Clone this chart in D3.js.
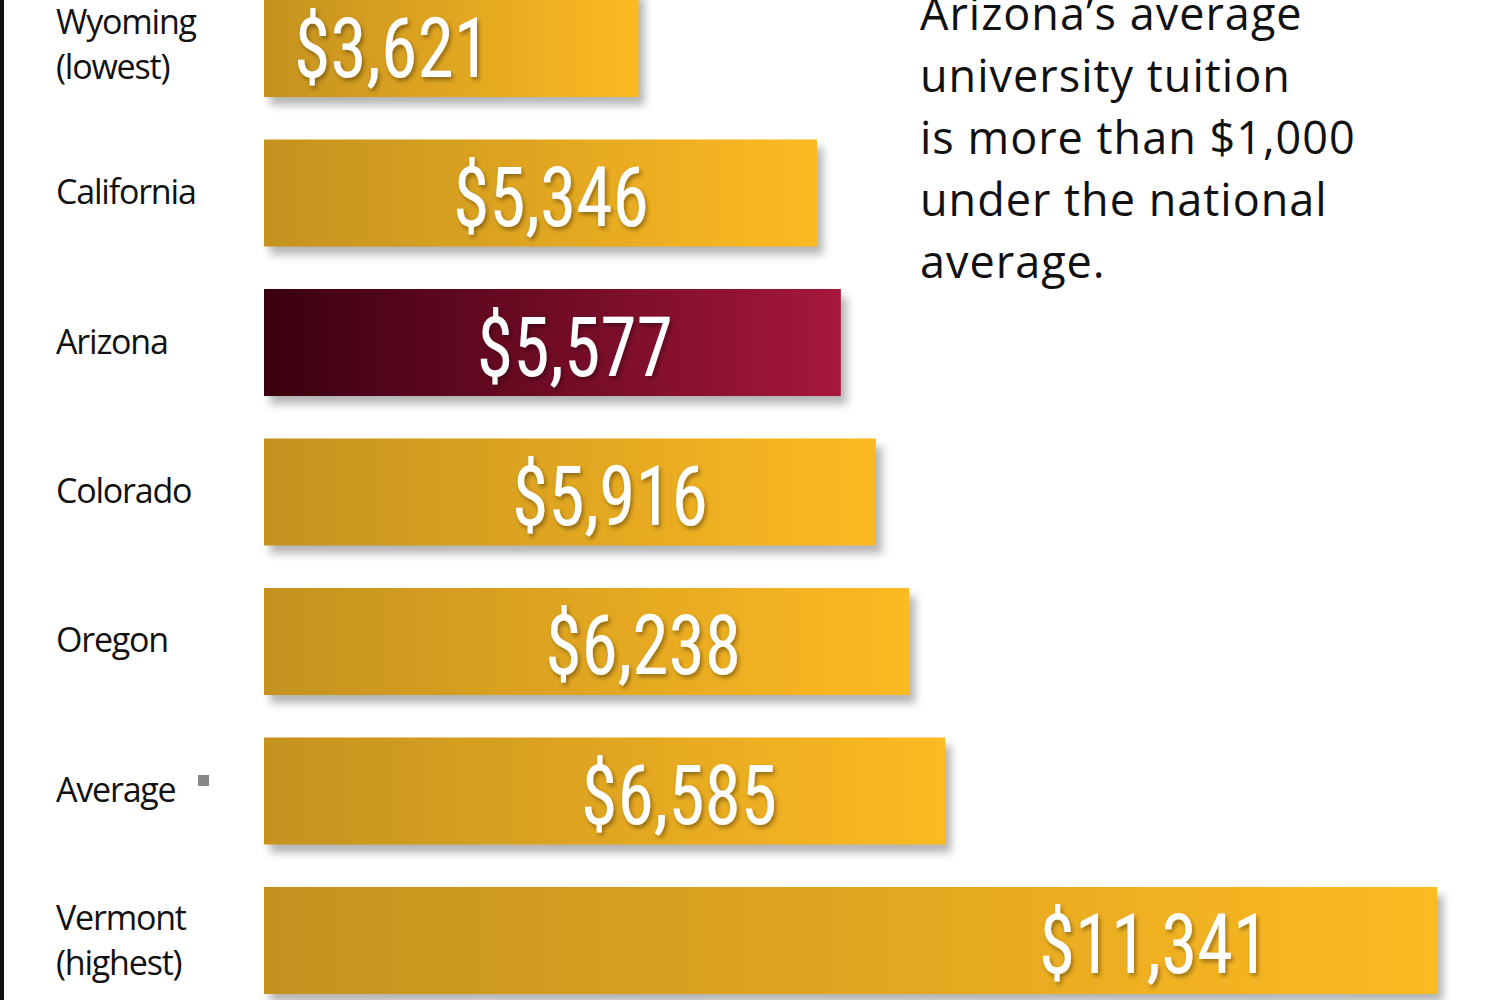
<!DOCTYPE html><html><head><meta charset="utf-8">
<script src="https://cdn.jsdelivr.net/npm/d3@7"></script>
<style>body{margin:0;background:#fff}svg{display:block}</style></head><body>
<svg id="c" width="1500" height="1000"></svg>
<script>
const states=["Wyoming|(lowest)","California","Arizona","Colorado","Oregon","Average","Vermont|(highest)"];
const tuition=[3621,5346,5577,5916,6238,6585,11341];
const valueLabels=["$3,621","$5,346","$5,577","$5,916","$6,238","$6,585","$11,341"];
const note=["Arizona’s average","university tuition","is more than $1,000","under the national","average."];
const svg=d3.select("#c");
const x=d3.scaleLinear().domain([0,11341]).range([264,1437]);
const y=d3.scaleBand().domain(d3.range(states.length)).range([-10,994]).paddingInner(0.284).paddingOuter(0);
const defs=svg.append("defs");
const g1=defs.append("linearGradient").attr("id","gold");
g1.append("stop").attr("offset","0").attr("stop-color","#c4921f");
g1.append("stop").attr("offset","1").attr("stop-color","#fdba22");
const g2=defs.append("linearGradient").attr("id","maroon");
g2.append("stop").attr("offset","0").attr("stop-color","#3a0010");
g2.append("stop").attr("offset","1").attr("stop-color","#a6173b");
const f=defs.append("filter").attr("id","sh").attr("x","-5%").attr("y","-20%").attr("width","115%").attr("height","150%");
f.append("feGaussianBlur").attr("stdDeviation",4);
const tf=defs.append("filter").attr("id","tsh");
tf.append("feDropShadow").attr("dx",2).attr("dy",3).attr("stdDeviation",2).attr("flood-color","#000").attr("flood-opacity",0.35);
svg.append("rect").attr("x",0).attr("y",0).attr("width",4).attr("height",1000).attr("fill","#111");
const rows=svg.selectAll("g.r").data(tuition).join("g");
rows.append("rect").attr("x",x(0)+6).attr("y",(d,i)=>y(i)+8).attr("width",d=>x(d)-x(0)).attr("height",y.bandwidth())
 .attr("fill","#777").attr("opacity",0.55).attr("filter","url(#sh)");
rows.append("rect").attr("x",x(0)).attr("y",(d,i)=>y(i)).attr("width",d=>x(d)-x(0)).attr("height",y.bandwidth())
 .attr("fill",(d,i)=>i===2?"url(#maroon)":"url(#gold)");
rows.append("text").attr("text-anchor","end")
 .attr("x",(d,i)=>i===0?490:x(d)-168)
 .attr("y",(d,i)=>y(i)+y.bandwidth()/2+33)
 .attr("font-family","'Liberation Sans Narrow','Roboto Condensed','Arial Narrow',sans-serif").attr("font-size",84)
 .attr("fill","#fff").attr("filter","url(#tsh)").attr("textLength",(d,i)=>valueLabels[i].length===7?230:196).attr("lengthAdjust","spacingAndGlyphs")
 .text((d,i)=>valueLabels[i]);
states.forEach((s,i)=>{
 const parts=s.split("|");const cy=y(i)+y.bandwidth()/2;
 parts.forEach((p,j)=>{
  svg.append("text").attr("x",56).attr("y",parts.length===1?cy+11:cy-10+j*45)
   .attr("font-family","'Open Sans',sans-serif").attr("font-size",34).attr("letter-spacing",-1.2).attr("fill","#111").text(p);
 });
 if(parts[0]==="Average") svg.append("rect").attr("x",198).attr("y",cy-16).attr("width",11).attr("height",11).attr("fill","#888");
});
note.forEach((t,i)=>svg.append("text").attr("x",920).attr("y",30+i*62).attr("font-family","'Open Sans',sans-serif")
 .attr("font-size",45).attr("fill","#111").attr("letter-spacing",1).text(t));
</script></body></html>
